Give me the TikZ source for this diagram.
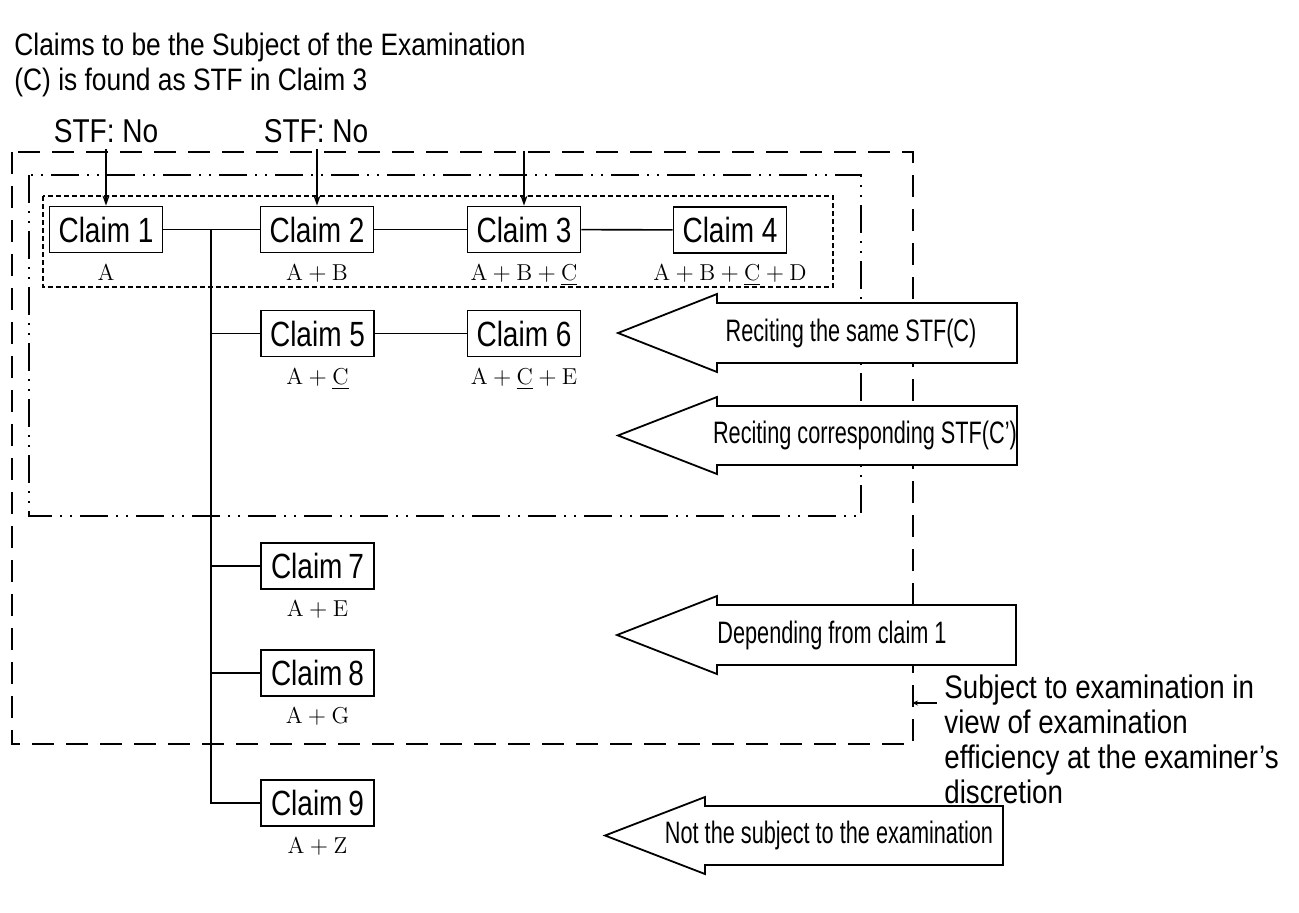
\documentclass[tikz,border=0pt]{standalone}
\usepackage{fontspec}
\usepackage{amsmath}
\usetikzlibrary{positioning,arrows.meta}
\newfontfamily\headfont[FakeStretch=0.85]{Liberation Sans}
\newfontfamily\claimfont[FakeStretch=0.8]{Liberation Sans}
\newfontfamily\narrowfont[FakeStretch=0.7]{Liberation Sans}

\tikzset{
  claim/.style={draw,line width=0.9pt,minimum width=56.5pt,minimum height=23pt,
                inner sep=0pt,font=\claimfont\fontsize{17.5}{20}\selectfont},
  feat/.style={inner sep=0pt,font=\fontsize{11.5}{13}\selectfont},
  link/.style={line width=0.8pt},
  stfarrow/.style={line width=0.8pt,-{Stealth[length=5pt,width=3.5pt]}},
  bigarrow/.style={draw,line width=0.9pt,fill=white},
  arrowtext/.style={inner sep=0pt,font=\narrowfont\fontsize{15.5}{18}\selectfont}
}

\begin{document}
\begin{tikzpicture}[x=0.5pt,y=-0.5pt]
    \fill[white] (0,0) rectangle (1299,912);
    \useasboundingbox (0,0) rectangle (1299,912);

    % heading
    \node[anchor=north west,inner sep=0pt,align=left,
          font=\headfont\fontsize{15.5}{17.5}\selectfont] (title) at (14,33)
        {Claims to be the Subject of the Examination\\(C) is found as STF in Claim 3};

    % frames
    \draw[line width=1.2pt,dash pattern=on 11pt off 6pt] (12,152) rectangle (913,744);
    \draw[line width=1.1pt,dash pattern=on 14pt off 4pt on 1pt off 4pt on 1pt off 4pt] (29,175) rectangle (861,516);
    \draw[line width=0.6pt,dash pattern=on 2.5pt off 1.5pt] (43,196) rectangle (833,287);

    % claims
    \node[claim] (c1) at (106,229.5) {Claim 1};
    \node[claim] (c2) at (317,229.5) {Claim 2};
    \node[claim] (c3) at (524,229.5) {Claim 3};
    \node[claim] (c4) at (730,230) {Claim 4};
    \node[claim] (c5) at (317.5,333.5) {Claim 5};
    \node[claim] (c6) at (524,333.5) {Claim 6};
    \node[claim] (c7) at (317.5,566) {Claim\,7};
    \node[claim] (c8) at (317.5,673) {Claim\,8};
    \node[claim] (c9) at (317.5,803) {Claim\,9};

    % features
    \node[feat,below=5pt of c1] (f1) {$\mathrm{A}$};
    \node[feat,below=5pt of c2] (f2) {$\mathrm{A}+\mathrm{B}$};
    \node[feat,below=5pt of c3] (f3) {$\mathrm{A}+\mathrm{B}+\underline{\mathrm{C}}$};
    \node[feat,below=5pt of c4] (f4) {$\mathrm{A}+\mathrm{B}+\underline{\mathrm{C}}+\mathrm{D}$};
    \node[feat,below=5pt of c5] (f5) {$\mathrm{A}+\underline{\mathrm{C}}$};
    \node[feat,below=5pt of c6] (f6) {$\mathrm{A}+\underline{\mathrm{C}}+\mathrm{E}$};
    \node[feat,below=5pt of c7] (f7) {$\mathrm{A}+\mathrm{E}$};
    \node[feat,below=5pt of c8] (f8) {$\mathrm{A}+\mathrm{G}$};
    \node[feat,below=5pt of c9] (f9) {$\mathrm{A}+\mathrm{Z}$};

    % links
    \coordinate (trunk) at (211,229.5);
    \draw[link] (c1) -- (c2);
    \draw[link] (c2) -- (c3);
    \draw[link] (c3) -- (c4);
    \draw[link] (c5) -- (c6);
    \draw[link] (trunk) |- (c9);
    \draw[link] (trunk |- c5) -- (c5);
    \draw[link] (trunk |- c7) -- (c7);
    \draw[link] (trunk |- c8) -- (c8);

    % STF marks
    \node[inner sep=3pt,font=\headfont\fontsize{16.5}{18}\selectfont] (stf1) at (106,131) {STF: No};
    \node[inner sep=3pt,font=\headfont\fontsize{16.5}{18}\selectfont] (stf2) at (316,131) {STF: No};
    \coordinate (stf3) at (524,151);
    \draw[stfarrow] (stf1.south -| c1) -- (c1);
    \draw[stfarrow] (stf2.south -| c2) -- (c2);
    \draw[stfarrow] (stf3) -- (c3);

    % block arrows
    \draw[bigarrow] (618,333) -- (717,294) -- (717,303) -- (1017,303) -- (1017,363)
        -- (717,363) -- (717,372) -- cycle;
    \node[arrowtext] (same) at (851,333) {Reciting the same STF(C)};
    \draw[bigarrow] (618,435.5) -- (717,397) -- (717,406) -- (1017,406) -- (1017,465)
        -- (717,465) -- (717,474) -- cycle;
    \node[arrowtext] (corr) at (865,435.5) {Reciting corresponding STF(C’)};
    \draw[bigarrow] (617,635) -- (717,596) -- (717,605) -- (1016,605) -- (1016,665)
        -- (717,665) -- (717,674) -- cycle;
    \node[arrowtext] (dep) at (832,635) {Depending from claim 1};
    \draw[bigarrow] (605,835.5) -- (705,797) -- (705,806) -- (1003,806) -- (1003,865)
        -- (705,865) -- (705,874) -- cycle;
    \node[arrowtext] (notsub) at (829,835.5) {Not the subject to the examination};

    % discretion note
    \node[anchor=north west,inner sep=0pt,align=left,
          font=\headfont\fontsize{16.3}{17.5}\selectfont] (subj) at (944,674)
        {Subject to examination in\\view of examination\\efficiency at the examiner’s\\discretion};
    \coordinate (leadA) at (937,703);
    \coordinate (leadB) at (912,703);
    \draw[line width=0.8pt,-{Stealth[length=3pt,width=2.5pt]}] (leadA) -- (leadB);
\end{tikzpicture}
\end{document}
